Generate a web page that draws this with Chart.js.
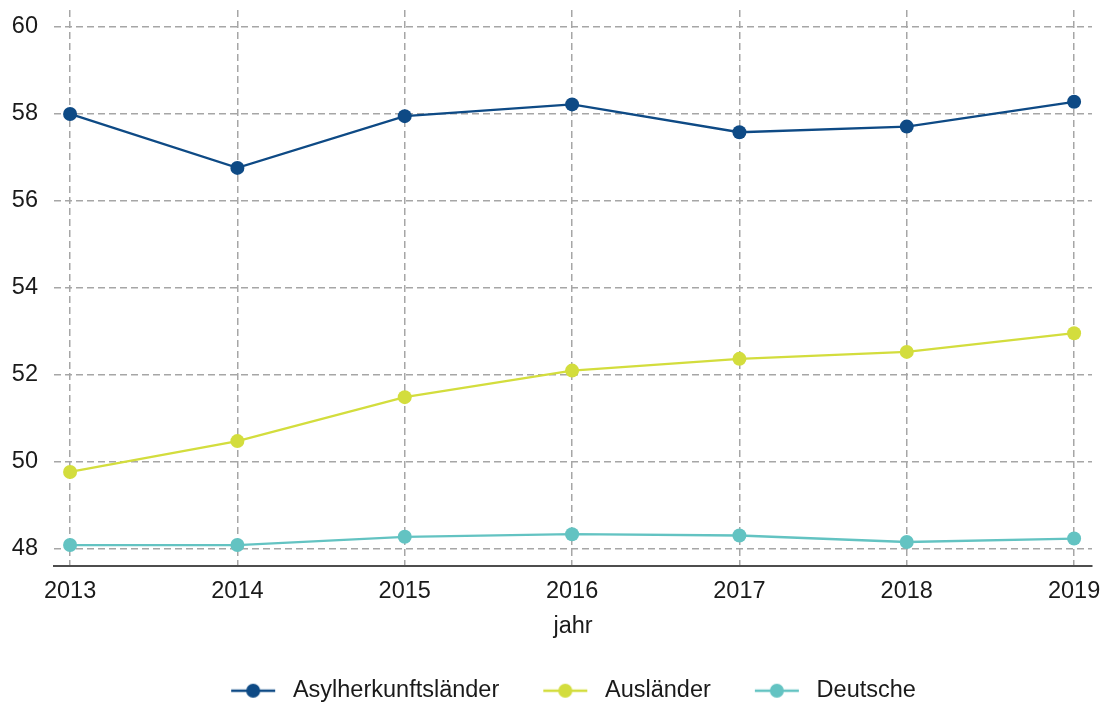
<!DOCTYPE html>
<html>
<head>
<meta charset="utf-8">
<script src="https://cdn.jsdelivr.net/npm/chart.js@4/dist/chart.umd.min.js"></script>
<style>
  html, body { margin: 0; padding: 0; background: #fff; }
</style>
</head>
<body>
<canvas id="chart" width="1106" height="702"></canvas>
<script>
// data
var years = [2013, 2014, 2015, 2016, 2017, 2018, 2019];
var asylValues = [58.0, 56.76, 57.95, 58.22, 57.58, 57.71, 58.28];
var auslaenderValues = [49.77, 50.48, 51.49, 52.1, 52.37, 52.53, 52.96];
var deutscheValues = [48.09, 48.09, 48.28, 48.34, 48.31, 48.16, 48.24];
var yTicks = [48, 50, 52, 54, 56, 58, 60];
var seriesNames = ['Asylherkunftsländer', 'Ausländer', 'Deutsche'];
var seriesColors = ['#0e4a85', '#d3dd3d', '#63c3c2'];

var fontFamily = "'Liberation Sans', Arial, sans-serif";
var fontSize = 23.5;
var textColor = '#1a1a1a';
var gridColor = '#a6a6a6';

function toPoints(values) {
  return values.map(function(v, i) { return { x: years[i], y: v }; });
}

// legend symbol: short line with a dot, blank space in front for item spacing
function legendSymbol(color) {
  var c = document.createElement('canvas');
  c.width = 94;
  c.height = 20;
  var g = c.getContext('2d');
  g.strokeStyle = color;
  g.lineWidth = 2.5;
  g.beginPath();
  g.moveTo(44, 10);
  g.lineTo(88, 10);
  g.stroke();
  g.fillStyle = color;
  g.beginPath();
  g.arc(66, 10, 7, 0, Math.PI * 2);
  g.fill();
  return c;
}

var allValues = [asylValues, auslaenderValues, deutscheValues];
var datasets = [];
for (var i = 0; i < seriesNames.length; i++) {
  datasets.push({
    label: seriesNames[i],
    data: toPoints(allValues[i]),
    borderColor: seriesColors[i],
    backgroundColor: seriesColors[i],
    borderWidth: 2.3,
    pointRadius: 7,
    pointHoverRadius: 7,
    pointBorderWidth: 0,
    tension: 0
  });
}
var symbols = seriesColors.map(legendSymbol);

new Chart(document.getElementById('chart'), {
  type: 'line',
  data: { datasets: datasets },
  options: {
    responsive: false,
    animation: false,
    layout: { padding: { top: 10, left: 11, right: 14, bottom: 0 } },
    scales: {
      x: {
        type: 'linear',
        min: 2012.904,
        max: 2019.107,
        afterBuildTicks: function(scale) {
          scale.ticks = years.map(function(y) { return { value: y }; });
        },
        afterFit: function(scale) {
          scale.height = 113.5;
          scale.paddingLeft = 0;
          scale.paddingRight = 0;
        },
        ticks: {
          padding: 12,
          color: textColor,
          font: { family: fontFamily, size: fontSize },
          callback: function(v) { return String(v); }
        },
        grid: { color: gridColor, lineWidth: 1.5, drawTicks: false },
        border: { display: true, color: '#4d4d4d', width: 2, dash: [7, 4] },
        title: {
          display: true,
          text: 'jahr',
          color: textColor,
          font: { family: fontFamily, size: fontSize },
          padding: { top: 7.6, bottom: 38.7 }
        }
      },
      y: {
        min: 47.62,
        max: 60.39,
        afterBuildTicks: function(scale) {
          scale.ticks = yTicks.map(function(v) { return { value: v }; });
        },
        afterFit: function(scale) {
          scale.width = 43;
          scale.paddingTop = 0;
          scale.paddingBottom = 0;
        },
        ticks: {
          padding: 16,
          color: textColor,
          font: { family: fontFamily, size: fontSize }
        },
        grid: { color: gridColor, lineWidth: 1.5, drawTicks: false },
        border: { display: false, dash: [7, 4] }
      }
    },
    plugins: {
      tooltip: { enabled: false },
      legend: {
        position: 'bottom',
        maxHeight: 23,
        labels: {
          usePointStyle: true,
          pointStyleWidth: 94,
          padding: 0,
          color: textColor,
          font: { family: fontFamily, size: fontSize },
          generateLabels: function(chart) {
            var items = Chart.defaults.plugins.legend.labels.generateLabels(chart);
            items.forEach(function(it, k) { it.pointStyle = symbols[k]; });
            return items;
          }
        }
      }
    }
  }
});
</script>
</body>
</html>
